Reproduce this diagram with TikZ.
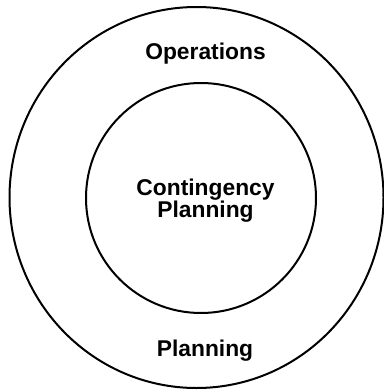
\documentclass[tikz,border=0pt]{standalone}
\usepackage{fontspec}
\setmainfont{Liberation Sans}
\begin{document}
\begin{tikzpicture}[x=1pt,y=-1pt,
  ring/.style={draw=black,line width=2pt},
  lbl/.style={font=\bfseries\fontsize{22.8}{22}\selectfont,align=center,inner sep=0pt,anchor=base}]
\useasboundingbox (0,0) rectangle (383,390);
\draw[ring] (196.5,197.5) ellipse [x radius=187, y radius=190.5];
\node[ring,circle,minimum size=230pt,inner sep=0pt] (inner) at (201,198) {};
\node[lbl] (ops) at (205.5,60) {Operations};
\node[lbl] (cp) at (205.5,217) {Contingency\\Planning};
\node[lbl] (pl) at (205,356) {Planning};
\end{tikzpicture}
\end{document}
